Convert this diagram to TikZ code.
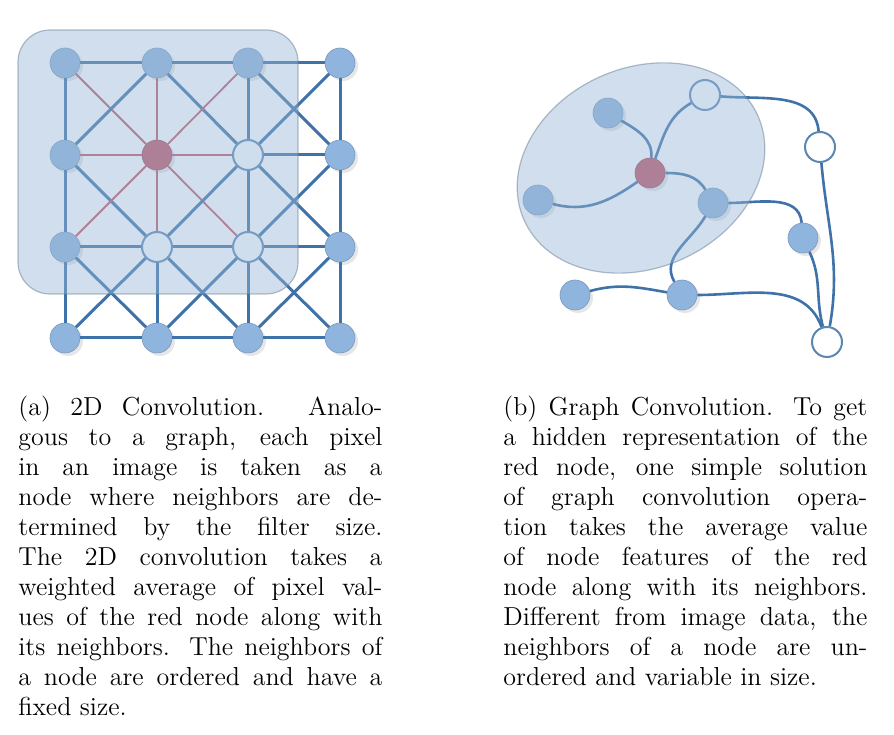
\documentclass[tikz,border=0pt]{standalone}
\usepackage{tikz}
\usetikzlibrary{shadows}
\definecolor{edgeblue}{RGB}{63,114,168}
\definecolor{nodeblue}{RGB}{143,180,221}
\definecolor{nodered}{RGB}{192,84,100}
\definecolor{edgered}{RGB}{196,86,104}
\definecolor{patchblue}{RGB}{150,182,214}
\tikzset{
  pixel/.style={circle, fill=nodeblue, draw=nodeblue!85!black, line width=0.3pt,
    minimum size=15pt, inner sep=0pt,
    drop shadow={opacity=0.2, shadow xshift=1.5pt, shadow yshift=-1.5pt}},
  rednode/.style={pixel, fill=nodered, draw=nodered!85!black},
  hollow/.style={circle, fill=white, draw=edgeblue!85, line width=1pt,
    minimum size=15pt, inner sep=0pt},
  link/.style={edgeblue, line width=1.5pt},
  redlink/.style={edgered, line width=0.9pt},
  curvelink/.style={edgeblue, line width=1.3pt},
  patch/.style={fill=patchblue, fill opacity=0.45, draw=patchblue!70!black,
    draw opacity=0.5, line width=0.6pt},
  caption/.style={anchor=north west, inner sep=0pt, text width=182pt,
    align=justify, font=\fontsize{13}{15}\selectfont}
}
% grid edge: red when it touches the centre pixel g22
\newcommand{\gridlink}[2]{%
  \ifnum#1=22 \draw[redlink] (g#1) -- (g#2);%
  \else\ifnum#2=22 \draw[redlink] (g#1) -- (g#2);%
  \else \draw[link] (g#1) -- (g#2);\fi\fi}

\begin{document}
\begin{tikzpicture}[x=0.5pt, y=0.5pt]
\useasboundingbox (0,0) rectangle (894,734);

% LEFT: 2D convolution on a 4x4 pixel grid
% pixels g<column><row>, rows counted from the top
\foreach \n/\x/\y/\s in {11/65/671/pixel, 21/157/671/pixel, 31/248/671/pixel, 41/340/671/pixel,
                         12/65/579/pixel, 22/157/579/rednode, 32/248/579/hollow, 42/340/579/pixel,
                         13/65/487/pixel, 23/157/487/hollow, 33/248/487/hollow, 43/340/487/pixel,
                         14/65/396/pixel, 24/157/396/pixel, 34/248/396/pixel, 44/340/396/pixel}
  \node[\s] (g\n) at (\x,\y) {};
% edges: right, down and both diagonals
\foreach \i in {1,...,4} {
  \foreach \j in {1,...,4} {
    \pgfmathtruncatemacro\ni{\i+1}
    \pgfmathtruncatemacro\nj{\j+1}
    \pgfmathtruncatemacro\pj{\j-1}
    \ifnum\i<4 \gridlink{\i\j}{\ni\j}\fi
    \ifnum\j<4 \gridlink{\i\j}{\i\nj}\fi
    \ifnum\i<4 \ifnum\j<4 \gridlink{\i\j}{\ni\nj}\fi\fi
    \ifnum\i<4 \ifnum\j>1 \gridlink{\i\j}{\ni\pj}\fi\fi
  }
}
% 3x3 filter window
\draw[patch, rounded corners=16pt] (18,704) rectangle (298,440);

% RIGHT: graph convolution
\node[pixel]   (nTop)   at (608,621) {};
\node[hollow]  (hTop)   at (705,639) {};
\node[hollow]  (hRight) at (820,587) {};
\node[rednode] (red)    at (650,561) {};
\node[pixel]   (nLeft)  at (538,534) {};
\node[pixel]   (nMid)   at (713,531) {};
\node[pixel]   (nRight) at (803,496) {};
\node[pixel]   (nLow)   at (575,439) {};
\node[pixel]   (nBot)   at (682,439) {};
\node[hollow]  (hBot)   at (827,392) {};
% curved edges
\draw[curvelink] (nTop) to[out=-30, in=85] (red);
\draw[curvelink] (red) to[out=70, in=-150] (hTop);
\draw[curvelink] (red) to[out=-145, in=-15] (nLeft);
\draw[curvelink] (red) to[out=0, in=120] (nMid);
\draw[curvelink] (hTop) to[out=-5, in=95] (hRight);
\draw[curvelink] (nMid) to[out=0, in=95] (nRight);
\draw[curvelink] (nMid) to[out=-120, in=120] (nBot);
\draw[curvelink] (nLow) to[out=15, in=170] (nBot);
\draw[curvelink] (nBot) to[out=0, in=110] (hBot);
\draw[curvelink] (nRight) to[out=-65, in=105] (hBot);
\draw[curvelink] (hRight) to[out=-85, in=80] (hBot);
% neighbourhood of the red node
\draw[patch] (641,566) ellipse [x radius=64pt, y radius=50pt, rotate=24];

% Captions
\node[caption] (capA) at (18,338) {(a) 2D Convolution. Analo-\linebreak
gous to a graph, each pixel\linebreak
in an image is taken as a\linebreak
node where neighbors are de-\linebreak
termined by the filter size.\linebreak
The 2D convolution takes a\linebreak
weighted average of pixel val-\linebreak
ues of the red node along with\linebreak
its neighbors. The neighbors of\linebreak
a node are ordered and have a\linebreak
fixed size.};
\node[caption] (capB) at (503,338) {(b) Graph Convolution. To get\linebreak
a hidden representation of the\linebreak
red node, one simple solution\linebreak
of graph convolution opera-\linebreak
tion takes the average value\linebreak
of node features of the red\linebreak
node along with its neighbors.\linebreak
Different from image data, the\linebreak
neighbors of a node are un-\linebreak
ordered and variable in size.};
\end{tikzpicture}
\end{document}
